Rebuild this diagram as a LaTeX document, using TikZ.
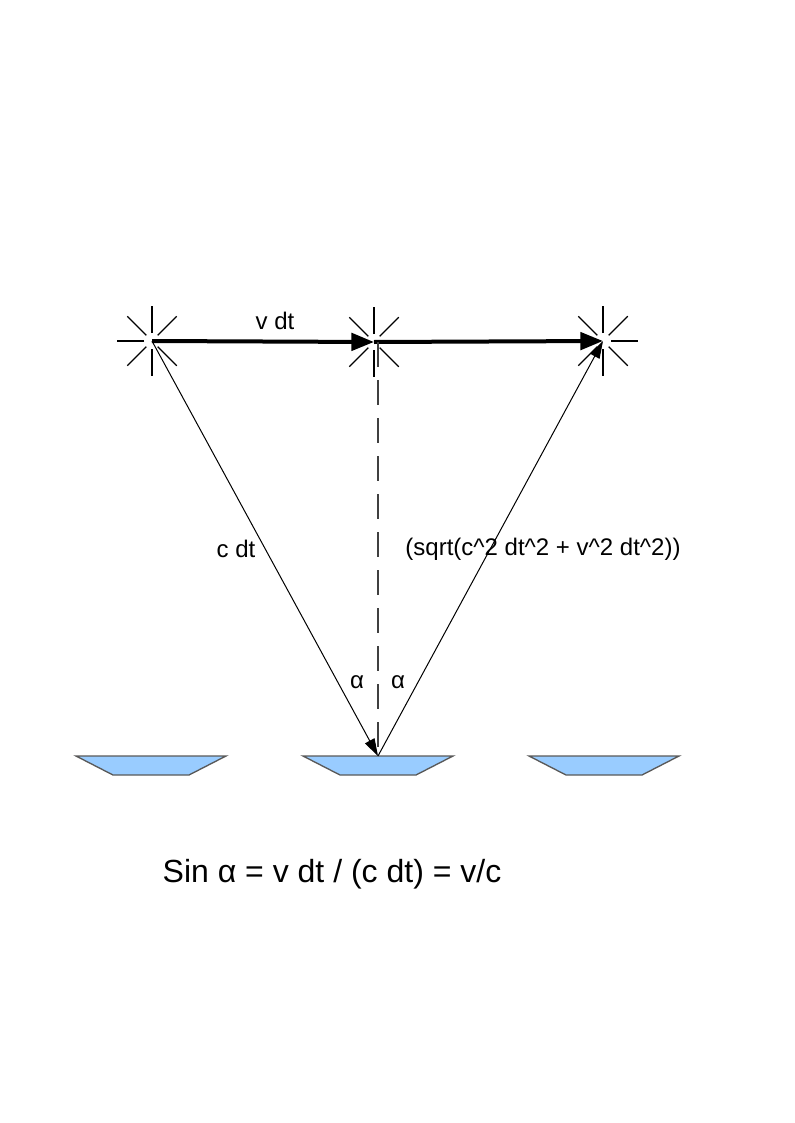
\documentclass[tikz,border=0pt]{standalone}
\usepackage{fontspec}
\setmainfont{Liberation Sans}
\usetikzlibrary{arrows.meta}

\begin{document}
\begin{tikzpicture}[x=0.75pt,y=-0.75pt,
	lbl/.style={font=\fontsize{18}{20}\selectfont},
	ray/.style={line width=1pt},
	motion/.style={line width=3pt,-{Triangle[length=17pt,width=13pt]}},
	beam/.style={line width=0.75pt,-{Triangle[length=13pt,width=8pt]}},
	mirror/.style={draw=black!65,line width=1pt,fill={rgb,255:red,153;green,204;blue,255}}]
	\useasboundingbox (0,0) rectangle (794,1123);
	\coordinate (s1) at (152,341);
	\coordinate (s2) at (374,342);
	\coordinate (s3) at (603,341);
	\coordinate (apex) at (378,756);
	\foreach \s in {s1,s2,s3}
		\foreach \a in {0,45,...,315}
			\draw[ray] (\s) ++(\a:8) -- ++(\a:27);
	\foreach \cx in {151,378,604}
		\draw[mirror] (\cx-75,756) -- (\cx+75,756) -- (\cx+38,775) -- (\cx-38,775) -- cycle;
	\draw[motion] (s1) -- (s2);
	\draw[motion] (s2) -- (s3);
	\draw[black!75,line width=1pt,dash pattern=on 18.75pt off 9.75pt] (apex |- s2) -- (apex);
	\draw[beam] (s1) -- (apex);
	\draw[beam] (apex) -- (s3);
	\node[lbl] (vdt) at (275,321) {v dt};
	\node[lbl] (cdt) at (236,549) {c dt};
	\node[lbl] (hyp) at (543,549) {(sqrt(c\textasciicircum2 dt\textasciicircum2 + v\textasciicircum2 dt\textasciicircum2))};
	\node[lbl] (alpha1) at (357,682) {α};
	\node[lbl] (alpha2) at (398,682) {α};
	\node[font=\fontsize{24}{28}\selectfont] (law) at (332,874) {Sin α = v dt / (c dt) = v/c};
\end{tikzpicture}
\end{document}
